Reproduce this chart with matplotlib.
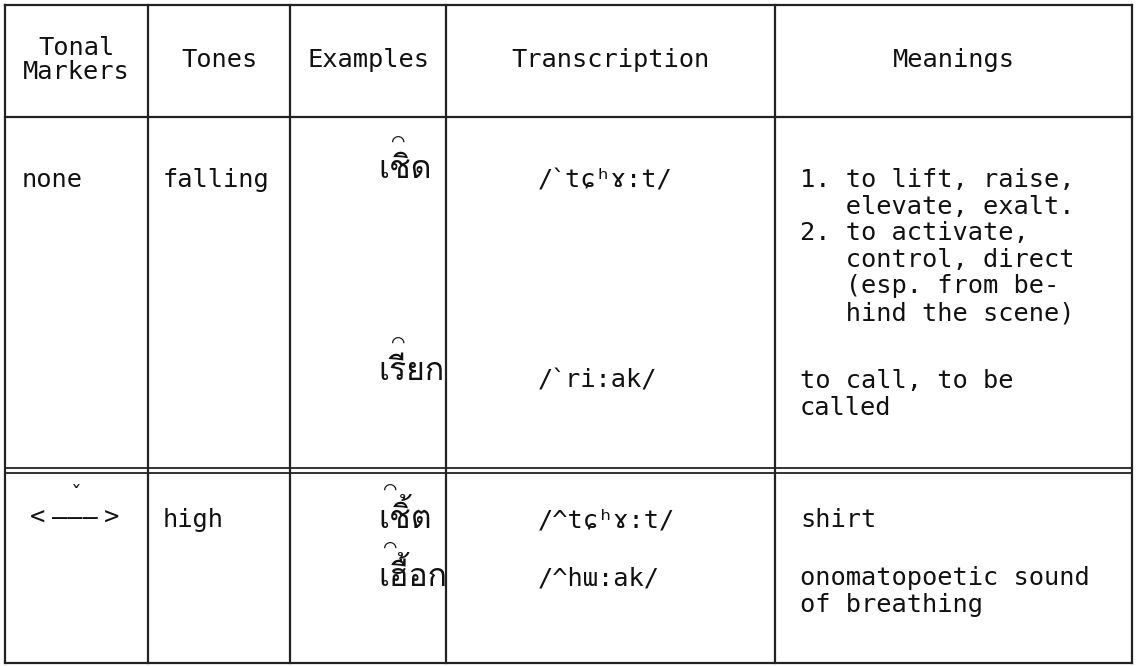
import numpy as np
import matplotlib
matplotlib.use('Agg')
from matplotlib import pyplot as plt
from matplotlib import font_manager
from matplotlib.ft2font import FT2Font

# table content
headers = ['Tonal\nMarkers', 'Tones', 'Examples', 'Transcription', 'Meanings']
markers = [['none'], ['<', '\u2014\u2014\u2014', '>']]
tones = ['falling', 'high']
examples = [['เชิด', 'เรียก'], ['เชิ้ต', 'เฮื้อก']]
transcriptions = [['/\u02cbt\u0255\u02b0\u0264:t/', '/\u02cbri:ak/'],
                  ['/^t\u0255\u02b0\u0264:t/', '/^h\u026f:ak/']]
meanings = [[['1. to lift, raise,', '   elevate, exalt.', '2. to activate,',
              '   control, direct', '   (esp. from be-', '   hind the scene)'],
             ['to call, to be', 'called']],
            [['shirt'], ['onomatopoetic sound', 'of breathing']]]


def find_thai_font():
    for f in font_manager.fontManager.ttflist:
        try:
            if 0x0E40 in FT2Font(f.fname).get_charmap():
                return f.name
        except Exception:
            pass
    return None


thai = find_thai_font()
fam = ['DejaVu Sans Mono', 'DejaVu Sans'] + ([thai] if thai else [])
plt.rcParams['font.family'] = fam

fig = plt.figure(figsize=(11.37, 6.66), dpi=100)
ax = fig.add_axes([0, 0, 1, 1])
ax.set_xlim(0, 1137)
ax.set_ylim(666, 0)
ax.axis('off')

col_x = [5, 148, 290, 446, 775, 1132]
top, head_bot, dbl, bottom = 5, 117, 470, 663
lc = '#222222'
tc = '#111111'
for x in col_x:
    ax.plot([x, x], [top, bottom], color=lc, lw=1.6)
for y in [top, head_bot, bottom]:
    ax.plot([col_x[0], col_x[-1]], [y, y], color=lc, lw=1.6)
for y in [dbl - 2.5, dbl + 2.5]:
    ax.plot([col_x[0], col_x[-1]], [y, y], color=lc, lw=1.3)

fs = 18.3
centers = [(col_x[i] + col_x[i + 1]) / 2 for i in range(5)]
for i, h in enumerate(headers):
    ax.text(centers[i], 60, h, ha='center', va='center', fontsize=fs,
            linespacing=1.0, color=tc)

# first-column marker pieces
ax.text(22, 180, markers[0][0], ha='left', va='center', fontsize=fs, color=tc)
for piece, px in zip(markers[1], [30, 52, 104]):
    ax.text(px, 518, piece, ha='left', va='center', fontsize=fs, color=tc)
ax.text(76, 495, '\u02c7', ha='center', va='center', fontsize=fs - 3,
        color=tc)

# row anchors (y of the first line of each entry)
entry_y = [[180, 381], [520, 578]]
thai_dy = [-10, -2]
mark_dy = [-38, -30]
step = 26.6
for r in range(2):
    ax.text(163, entry_y[r][0], tones[r], ha='left', va='center',
            fontsize=fs, color=tc)
    for k in range(2):
        y0 = entry_y[r][k]
        ax.text(378, y0 + thai_dy[r], examples[r][k], ha='left',
                va='center', fontsize=23, color=tc)
        ax.text(398 if r == 0 else 390, y0 + mark_dy[r], '\u25e0',
                ha='center', va='center', fontsize=15, color=tc)
        ax.text(538, y0, transcriptions[r][k], ha='left', va='center',
                fontsize=fs, color=tc)
        for j, line in enumerate(meanings[r][k]):
            ax.text(800, y0 + j * step, line, ha='left', va='center',
                    fontsize=fs, color=tc)

fig.savefig('out.png', dpi=100)
